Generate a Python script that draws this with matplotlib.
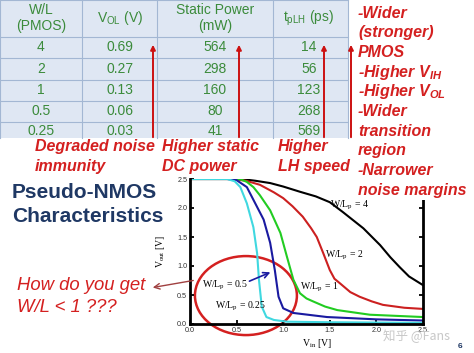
import matplotlib.pyplot as plt
from matplotlib.patches import Rectangle, Ellipse

plt.rcParams['font.family'] = ['Liberation Sans', 'DejaVu Sans']
plt.rcParams['mathtext.fontset'] = 'custom'
plt.rcParams['mathtext.rm'] = 'Liberation Serif'
plt.rcParams['mathtext.sf'] = 'Liberation Sans'
plt.rcParams['mathtext.it'] = 'Liberation Sans:bold:italic'

# table values
wl = ['4', '2', '1', '0.5', '0.25']
vol = ['0.69', '0.27', '0.13', '0.06', '0.03']
power = ['564', '298', '160', '80', '41']
tplh = ['14', '56', '123', '268', '569']
headers = ['W/L\n(PMOS)', r'V$_{\mathsf{OL}}$ (V)', 'Static Power\n(mW)', r't$_{\mathsf{pLH}}$ (ps)']

# VTC curves
vin_4 = [0, 0.55, 0.7, 0.86, 1.0, 1.18, 1.35, 1.5, 1.64, 1.86, 2.04, 2.15, 2.25, 2.35, 2.5]
vout_4 = [2.5, 2.5, 2.47, 2.43, 2.37, 2.28, 2.2, 2.1, 1.93, 1.65, 1.36, 1.15, 0.98, 0.82, 0.67]
vin_2 = [0, 0.45, 0.6, 0.75, 0.9, 1.0, 1.1, 1.21, 1.3, 1.36, 1.43, 1.5, 1.55, 1.61, 1.72, 1.82, 1.95, 2.07, 2.3, 2.5]
vout_2 = [2.5, 2.5, 2.47, 2.4, 2.27, 2.17, 2.03, 1.85, 1.65, 1.5, 1.22, 0.93, 0.78, 0.7, 0.55, 0.47, 0.39, 0.33, 0.28, 0.26]
vin_1 = [0, 0.45, 0.55, 0.61, 0.68, 0.75, 0.86, 0.97, 1.04, 1.11, 1.18, 1.25, 1.32, 1.45, 1.58, 1.93, 2.5]
vout_1 = [2.5, 2.5, 2.49, 2.45, 2.36, 2.22, 1.96, 1.57, 1.16, 0.76, 0.53, 0.44, 0.39, 0.3, 0.24, 0.16, 0.12]
vin_05 = [0, 0.4, 0.5, 0.61, 0.7, 0.79, 0.86, 0.91, 0.95, 1.0, 1.11, 1.47, 2.0, 2.5]
vout_05 = [2.5, 2.5, 2.48, 2.36, 2.08, 1.8, 1.4, 0.93, 0.47, 0.27, 0.19, 0.12, 0.08, 0.06]
vin_025 = [0, 0.4, 0.48, 0.54, 0.61, 0.68, 0.72, 0.74, 0.77, 0.82, 0.9, 1.04, 1.5, 2.5]
vout_025 = [2.5, 2.5, 2.46, 2.36, 2.08, 1.67, 1.22, 0.76, 0.3, 0.12, 0.07, 0.04, 0.03, 0.02]
ticks = [0.0, 0.5, 1.0, 1.5, 2.0, 2.5]

red = '#d42020'
green = '#3b8b3b'
navy = '#1f3864'
W, H = 474, 353

fig = plt.figure(figsize=(4.74, 3.53), dpi=100)

# ---- plot ----
ax = fig.add_axes([190 / W, 1 - 324 / H, 233 / W, 145 / H], zorder=1)
ax.plot(vin_4, vout_4, color='black', lw=1.5)
ax.plot(vin_2, vout_2, color='#cc2020', lw=1.5)
ax.plot(vin_1, vout_1, color='#22cc22', lw=1.5)
ax.plot(vin_05, vout_05, color='#1a1aa0', lw=1.5)
ax.plot(vin_025, vout_025, color='#40d8e0', lw=1.5)
ax.set_xlim(0, 2.5)
ax.set_ylim(0, 2.5)
ax.set_xticks(ticks)
ax.set_yticks(ticks)
ax.set_xticklabels(['%.1f' % t for t in ticks])
ax.set_yticklabels(['%.1f' % t for t in ticks])
ax.tick_params(direction='in', length=3, width=1.3, labelsize=5.2, labelcolor='#333333',
               right=True, pad=2)
ax.spines['top'].set_visible(False)
for s in ['left', 'bottom', 'right']:
    ax.spines[s].set_linewidth(2)
ax.set_xlabel(r'V$_{\mathrm{in}}$ [V]', family='Liberation Serif', fontsize=7)
ax.set_ylabel(r'V$_{\mathrm{out}}$ [V]', family='Liberation Serif', fontsize=7)
ax.xaxis.set_label_coords(0.545, -0.09)
ax.yaxis.set_label_coords(-0.1, 0.5)

lab = dict(family='Liberation Serif', fontsize=7, ha='left', va='center')
ax.text(1.5, 2.05, r'W/L$_{\mathrm{p}}$ = 4', **lab)
ax.text(1.45, 1.19, r'W/L$_{\mathrm{p}}$ = 2', **lab)
ax.text(1.18, 0.64, r'W/L$_{\mathrm{p}}$ = 1', **lab)
ax.text(0.13, 0.67, r'W/L$_{\mathrm{p}}$ = 0.5', **lab)
ax.text(0.27, 0.30, r'W/L$_{\mathrm{p}}$ = 0.25', **lab)
ax.annotate('', xy=(0.89, 0.91), xytext=(0.61, 0.72),
            arrowprops=dict(arrowstyle='->', color='#1a1aa0', lw=1.2))
ax.add_patch(Ellipse((0.60, 0.49), 1.094, 1.362, fill=False, ec=red, lw=1.8, clip_on=False))

# ---- overlay in pixel coords ----
ov = fig.add_axes([0, 0, 1, 1], zorder=2)
ov.set_xlim(0, W)
ov.set_ylim(H, 0)
ov.axis('off')
ov.patch.set_visible(False)

# table
cols = [0, 82, 157, 273, 348]
rows = [0, 37, 58, 80, 101, 122, 138]
ov.add_patch(Rectangle((0, 0), 348, 138, fc='#dfe7f3', ec='none'))
for x in cols:
    ov.plot([x, x], [0, 138], color='#a3b7d3', lw=0.8)
for y in rows[:-1]:
    ov.plot([0, 348], [y, y], color='#a3b7d3', lw=0.8)
centers = [41, 120, 215, 309]
for c, h in zip(centers, headers):
    ov.text(c, 18, h, ha='center', va='center', color=green, fontsize=10, linespacing=1.1)
row_y = [47, 69, 90, 111, 131]
for i, y in enumerate(row_y):
    for c, vals in zip(centers, [wl, vol, power, tplh]):
        ov.text(c, y, vals[i], ha='center', va='center', color=green, fontsize=10)

# white boxes behind the red notes
ov.add_patch(Rectangle((0, 138), 352, 38, fc='white', ec='none'))
ov.add_patch(Rectangle((352, 0), 122, 200, fc='white', ec='none'))

for x in [153, 239, 324, 351]:
    ov.annotate('', xy=(x, 42), xytext=(x, 140),
                arrowprops=dict(arrowstyle='-|>', color='#cc1111', lw=1.4, mutation_scale=7))

note = dict(color=red, fontsize=11.5, fontweight='bold', style='italic', ha='left', va='center')
right_lines = ['-Wider', '(stronger)', 'PMOS', r'-Higher V$_{IH}$', r'-Higher V$_{OL}$',
               '-Wider', 'transition', 'region', '-Narrower', 'noise margins']
for i, t in enumerate(right_lines):
    ov.text(358, 13 + i * 19.7, t, **note)

ov.text(35, 147, 'Degraded noise', **note)
ov.text(35, 166, 'immunity', **note)
ov.text(162, 147, 'Higher static', **note)
ov.text(162, 166, 'DC power', **note)
ov.text(278, 147, 'Higher', **note)
ov.text(278, 166, 'LH speed', **note)

ov.text(12, 193, 'Pseudo-NMOS', color=navy, fontsize=15, fontweight='bold', ha='left', va='center')
ov.text(12, 217, 'Characteristics', color=navy, fontsize=15, fontweight='bold', ha='left', va='center')

ov.text(17, 285, 'How do you get', color=red, fontsize=13.3, style='italic', ha='left', va='center')
ov.text(17, 307, 'W/L < 1 ???', color=red, fontsize=13.3, style='italic', ha='left', va='center')
ov.annotate('', xy=(150, 288), xytext=(196, 280),
            arrowprops=dict(arrowstyle='->', color='#a04040', lw=1.0))

ov.text(383, 336, '知乎 @Fans', color='#c8c8c8', fontsize=9, ha='left', va='center',
        family=['Noto Sans CJK SC', 'DejaVu Sans'])
ov.text(460, 346, '6', color=navy, fontsize=6, fontweight='bold', ha='center', va='center')

fig.savefig('out.png', dpi=100)
